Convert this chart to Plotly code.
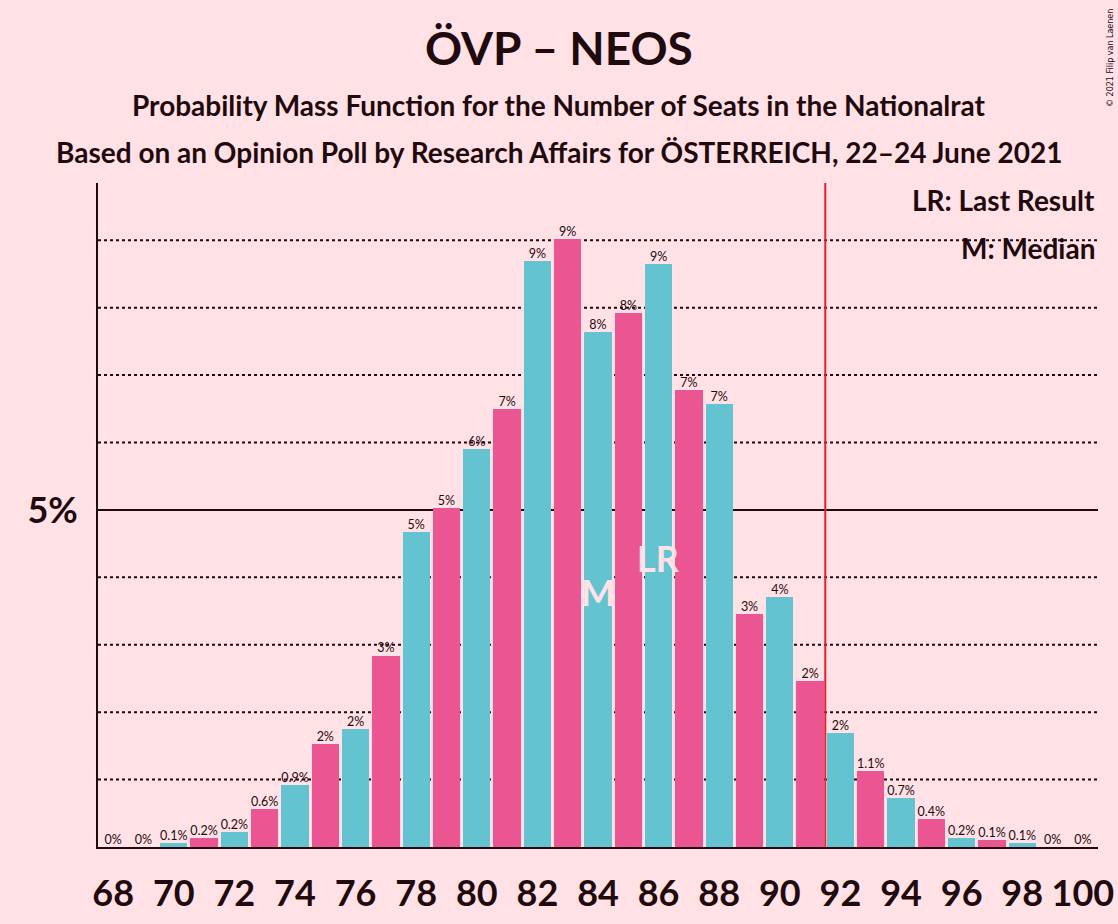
import plotly.graph_objects as go

seats = list(range(68, 101))
probs = [0.0, 0.0, 0.06, 0.13, 0.22, 0.56, 0.92, 1.53, 1.75, 2.84, 4.67, 5.03,
         5.9, 6.5, 8.69, 9.02, 7.64, 7.92, 8.65, 6.78, 6.57, 3.46, 3.71, 2.46,
         1.69, 1.13, 0.73, 0.42, 0.13, 0.1, 0.06, 0.0, 0.0]
labels = ["0%", "0%", "0.1%", "0.2%", "0.2%", "0.6%", "0.9%", "2%", "2%", "3%",
          "5%", "5%", "6%", "7%", "9%", "9%", "8%", "8%", "9%", "7%", "7%", "3%",
          "4%", "2%", "2%", "1.1%", "0.7%", "0.4%", "0.2%", "0.1%", "0.1%", "0%", "0%"]
x_ticks = list(range(68, 101, 2))
grid_values = [1, 2, 3, 4, 6, 7, 8, 9]
majority = 91.5
median_seat = 84
last_result_seat = 86

TEAL = "#63C3D1"
PINK = "#EB5592"
BG = "#FFE1E6"
DARK = "#1F0A0E"
FONT = "Lato"

colors = [TEAL if s % 2 == 0 else PINK for s in seats]

fig = go.Figure()
fig.add_trace(go.Bar(
    x=seats, y=probs, marker=dict(color=colors, line=dict(width=0)),
    width=0.9, hoverinfo="skip", showlegend=False,
))
fig.add_trace(go.Scatter(
    x=seats, y=probs, mode="text", text=labels, textposition="top center",
    textfont=dict(family=FONT, size=12.5, color=DARK), hoverinfo="skip",
    showlegend=False, cliponaxis=False,
))

shapes = []
for g in grid_values:
    shapes.append(dict(type="line", xref="paper", x0=0, x1=1, yref="y", y0=g, y1=g,
                       line=dict(color=DARK, width=2, dash="dot"), layer="below"))
shapes.append(dict(type="line", xref="paper", x0=0, x1=1, yref="y", y0=5, y1=5,
                   line=dict(color=DARK, width=2), layer="below"))
shapes.append(dict(type="line", xref="x", x0=majority, x1=majority, yref="paper", y0=0, y1=1,
                   line=dict(color="#E8202A", width=2), layer="above"))

W, H = 1118, 924
L, R, T, B = 98, 20, 183, 77
pw, ph = W - L - R, H - T - B


def px_ann(text, px, py, size, xanchor="center", family=FONT, angle=0):
    return dict(text=text, x=(px - L) / pw, y=(H - B - py) / ph, xref="paper", yref="paper",
                xanchor=xanchor, yanchor="middle", showarrow=False, textangle=angle,
                font=dict(family=family, size=size, color=DARK))


annotations = [
    px_ann("<b>ÖVP – NEOS</b>", 559, 48, 46),
    px_ann("<b>Probability Mass Function for the Number of Seats in the Nationalrat</b>",
           559, 105, 28),
    px_ann("<b>Based on an Opinion Poll by Research Affairs for ÖSTERREICH, 22–24 June 2021</b>",
           559, 152, 28),
    px_ann("<b>LR: Last Result</b>", 1097, 200, 28, xanchor="right"),
    px_ann("<b>M: Median</b>", 1097, 248, 28, xanchor="right"),
    px_ann("© 2021 Filip van Laenen", 1110, 58, 8, family="DejaVu Sans", angle=-90),
]

annotations.append(dict(text="<b>M</b>", x=median_seat, y=3.78, xref="x", yref="y", showarrow=False,
                        font=dict(family=FONT, size=36, color=BG), yanchor="middle"))
annotations.append(dict(text="<b>LR</b>", x=last_result_seat, y=4.29, xref="x", yref="y", showarrow=False,
                        font=dict(family=FONT, size=36, color=BG), yanchor="middle"))

fig.update_layout(
    width=W, height=H, paper_bgcolor=BG, plot_bgcolor=BG,
    margin=dict(l=L, r=R, t=T, b=B, autoexpand=False),
    bargap=0, shapes=shapes, annotations=annotations,
    xaxis=dict(range=[67.5, 100.5], tickvals=x_ticks, ticktext=[f"<b>{t}</b>" for t in x_ticks],
               tickfont=dict(family=FONT, size=36, color=DARK), showgrid=False,
               showline=True, linecolor=DARK, linewidth=2, ticks="", zeroline=False,
               ticklabelstandoff=14),
    yaxis=dict(range=[0, 9.85], tickvals=[5], ticktext=["<b>5%</b>"],
               tickfont=dict(family=FONT, size=36, color=DARK), showgrid=False,
               showline=True, linecolor=DARK, linewidth=2, ticks="", zeroline=False,
               ticklabelstandoff=11),
)

fig.write_html("out.html", config={"displayModeBar": False},
               post_script="document.body.style.margin='0';")
